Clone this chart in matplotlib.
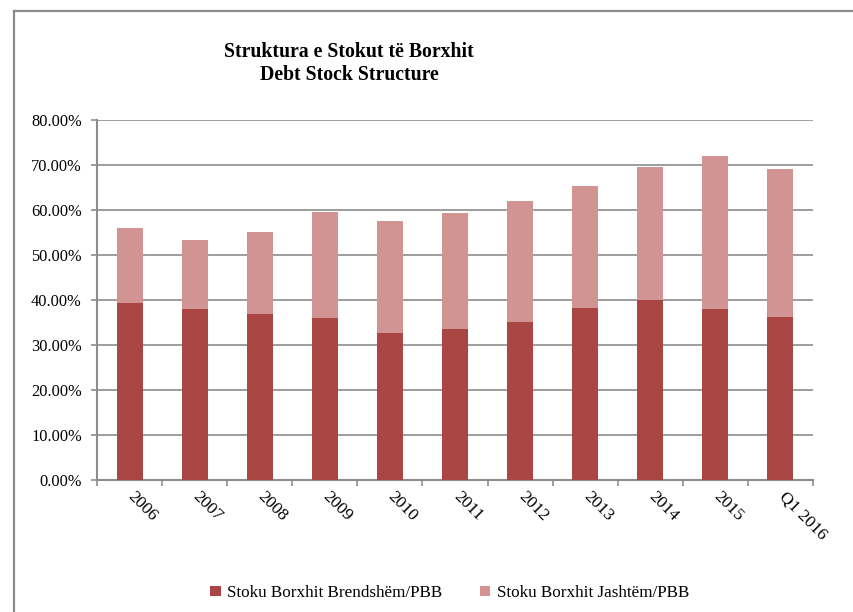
import numpy as np
from matplotlib import pyplot as plt
from matplotlib.lines import Line2D
from matplotlib.transforms import ScaledTranslation

vitet = ["2006", "2007", "2008", "2009", "2010", "2011",
         "2012", "2013", "2014", "2015", "Q1 2016"]
brendshem = [39.5, 38.1, 37.0, 36.1, 32.8, 33.6, 35.2, 38.4, 40.1, 38.1, 36.4]
jashtem = [16.6, 15.3, 18.1, 23.6, 24.9, 25.7, 26.9, 27.1, 29.6, 34.0, 32.8]

plt.rcParams['font.family'] = ['Liberation Serif', 'DejaVu Serif']

fig = plt.figure(figsize=(8.54, 6.12), dpi=100)
ax = fig.add_axes([97/854, 1 - 480.3/612, (813 - 97)/854, (480.3 - 120.3)/612])

x = np.arange(len(vitet))
ax.bar(x, brendshem, width=0.4, color='#A94644', zorder=3,
       label='Stoku Borxhit Brendshëm/PBB')
ax.bar(x, jashtem, width=0.4, bottom=brendshem, color='#D29393', zorder=3,
       label='Stoku Borxhit Jashtëm/PBB')

ax.set_xlim(-0.5, len(vitet) - 0.5)
ax.set_ylim(0, 80)
ax.set_yticks(np.arange(0, 81, 10))
ax.set_yticklabels([f"{v:.2f}%" for v in np.arange(0, 81, 10)], fontsize=11.8)
ax.yaxis.grid(True, color='#8c8c8c', linewidth=1.2, zorder=0)
ax.set_axisbelow(True)

# tick marks between categories, labels under the bars
ax.set_xticks(np.arange(-0.5, len(vitet), 1))
ax.set_xticklabels([])
ax.set_xticks(x, minor=True)
ax.set_xticklabels(vitet, minor=True, fontsize=12.5, rotation=-45,
                   ha='left', va='top')
ax.tick_params(axis='x', which='minor', length=0, pad=6)
ax.tick_params(axis='x', which='major', length=4, color='#8c8c8c', width=1.2)
ax.tick_params(axis='y', length=4, color='#8c8c8c', width=1.2, pad=7)
offset = ScaledTranslation(-5/100, 0, fig.dpi_scale_trans)
for lab in ax.get_xticklabels(minor=True):
    lab.set_transform(lab.get_transform() + offset)

for s in ['top', 'right']:
    ax.spines[s].set_visible(False)
for s in ['left', 'bottom']:
    ax.spines[s].set_color('#8c8c8c')
    ax.spines[s].set_linewidth(1.5)

fig.text(349/854, 1 - 52/612, "Struktura e Stokut të Borxhit",
         ha='center', va='center', fontsize=14.2, fontweight='bold')
fig.text(349/854, 1 - 75/612, "Debt Stock Structure",
         ha='center', va='center', fontsize=14.2, fontweight='bold')

fig.legend(loc='center', bbox_to_anchor=(450/854, 1 - 593/612), ncol=2,
           frameon=False, fontsize=12.3, handlelength=0.6, handleheight=0.6,
           handletextpad=0.4, columnspacing=2.2)

# chart border (left and top)
fig.add_artist(Line2D([14/854, 14/854], [0, 1 - 11/612], color='#8c8c8c',
                      linewidth=1.6, transform=fig.transFigure))
fig.add_artist(Line2D([14/854, 1], [1 - 11/612, 1 - 11/612], color='#8c8c8c',
                      linewidth=1.6, transform=fig.transFigure))

fig.savefig("out.png", dpi=100)
